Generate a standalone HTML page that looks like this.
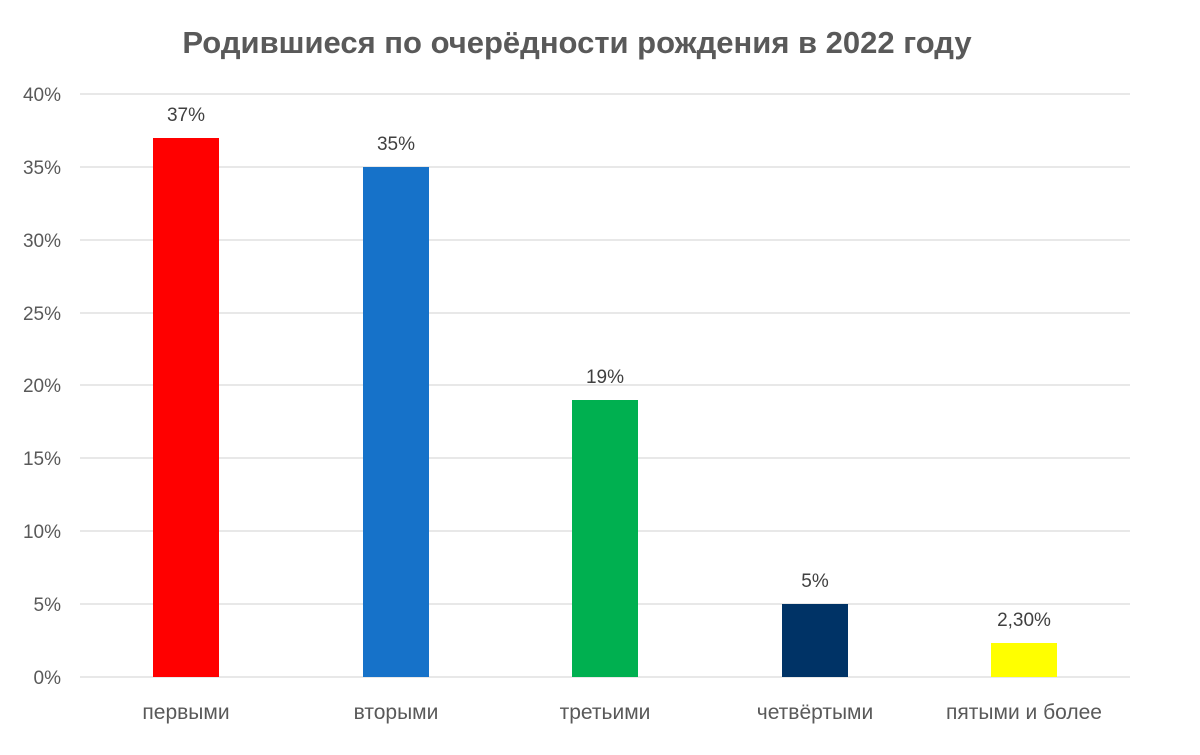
<!DOCTYPE html>
<html><head><meta charset="utf-8"><style>
body{margin:0;background:#fff;}
svg{display:block;font-family:"Liberation Sans","DejaVu Sans",sans-serif;}
</style></head><body>
<svg width="1200" height="755" viewBox="0 0 1200 755">
<rect width="1200" height="755" fill="#fff"/>
<text x="577" y="53" text-anchor="middle" font-size="31" font-weight="bold" fill="#595959">Родившиеся по очерёдности рождения в 2022 году</text>
<g stroke="#d9d9d9" stroke-width="1.3">
<line x1="80" x2="1130" y1="94" y2="94"/><line x1="80" x2="1130" y1="167" y2="167"/>
<line x1="80" x2="1130" y1="240" y2="240"/><line x1="80" x2="1130" y1="313" y2="313"/>
<line x1="80" x2="1130" y1="385" y2="385"/><line x1="80" x2="1130" y1="458" y2="458"/>
<line x1="80" x2="1130" y1="531" y2="531"/><line x1="80" x2="1130" y1="604" y2="604"/>
<line x1="80" x2="1130" y1="677" y2="677"/>
</g>
<g font-size="19" fill="#595959" text-anchor="end">
<text x="61" y="101">40%</text><text x="61" y="174">35%</text><text x="61" y="247">30%</text>
<text x="61" y="320">25%</text><text x="61" y="392">20%</text><text x="61" y="465">15%</text>
<text x="61" y="538">10%</text><text x="61" y="611">5%</text><text x="61" y="684">0%</text>
</g>
<rect x="153" y="138" width="66" height="539" fill="#ff0000"/>
<rect x="363" y="167" width="66" height="510" fill="#1672c9"/>
<rect x="572" y="400" width="66" height="277" fill="#00b050"/>
<rect x="782" y="604" width="66" height="73" fill="#003366"/>
<rect x="991" y="643" width="66" height="34" fill="#ffff00"/>
<g font-size="19" fill="#404040" text-anchor="middle">
<text x="186" y="121">37%</text><text x="396" y="150">35%</text><text x="605" y="383">19%</text>
<text x="815" y="587">5%</text><text x="1024" y="626">2,30%</text>
</g>
<g font-size="21" fill="#595959" text-anchor="middle">
<text x="186" y="719">первыми</text><text x="396" y="719">вторыми</text><text x="605" y="719">третьими</text>
<text x="815" y="719">четвёртыми</text><text x="1024" y="719">пятыми и более</text>
</g>
</svg>
</body></html>
